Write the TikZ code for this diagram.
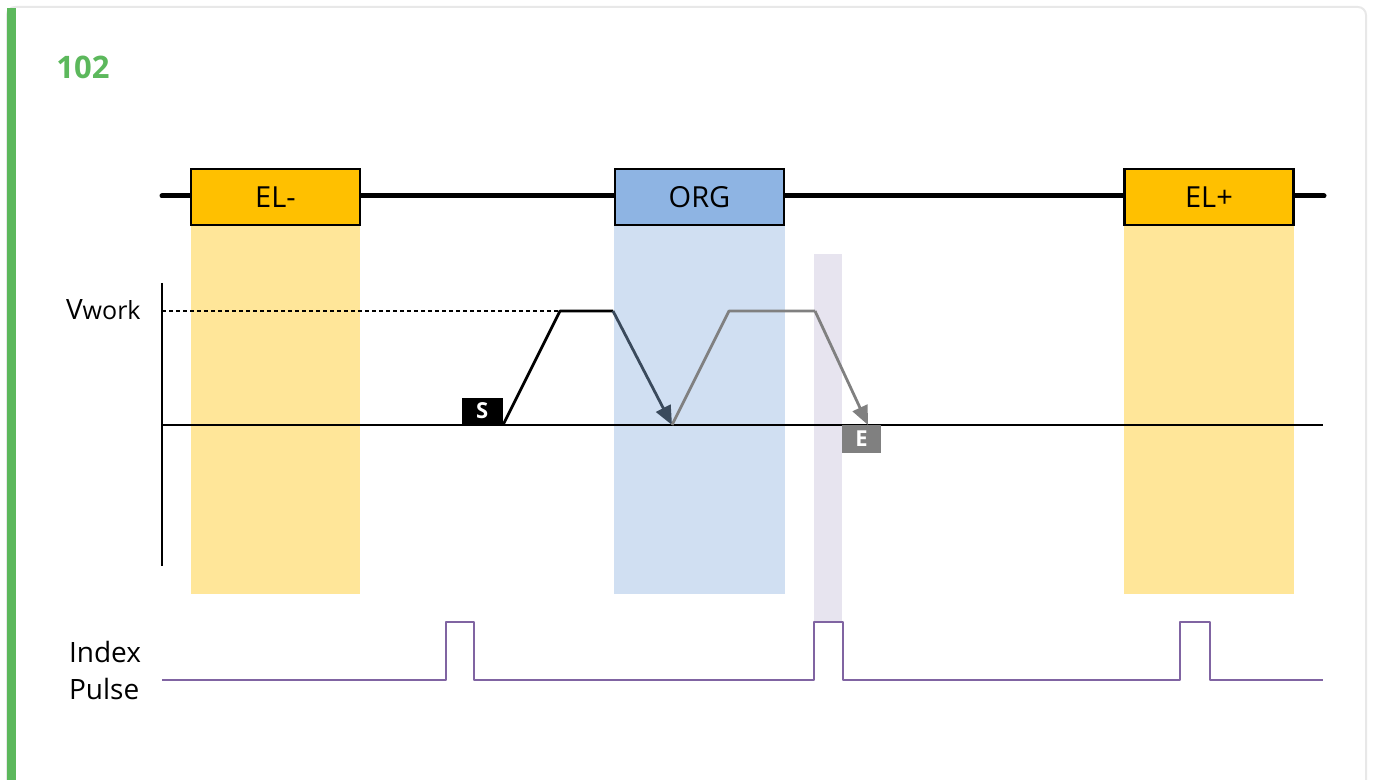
\documentclass[tikz,border=0pt]{standalone}
\usepackage{fontspec}
\setmainfont{Open Sans}
\usetikzlibrary{arrows.meta}

\definecolor{cardgreen}{HTML}{5CB85C}
\definecolor{cardline}{HTML}{E8E8E8}
\definecolor{limitorange}{HTML}{FFC000}
\definecolor{limitband}{HTML}{FFE699}
\definecolor{orgblue}{HTML}{8EB4E3}
\definecolor{orgband}{HTML}{D0DFF2}
\definecolor{indexband}{HTML}{E7E4EF}
\definecolor{pulseviolet}{HTML}{8064A2}
\definecolor{decelnavy}{HTML}{3A4A5C}
\definecolor{returngray}{HTML}{808080}

\tikzset{
  sensor/.style={draw=black, line width=1.1pt, minimum width=84.5pt, minimum height=28pt,
    inner sep=0pt, font=\fontsize{14.5}{17}\selectfont},
  tag/.style={inner sep=0pt, minimum width=20pt, minimum height=14pt,
    text=white, font=\bfseries\fontsize{11}{12}\selectfont},
  profile/.style={line width=1.4pt, line join=round},
  tip/.style={-{Triangle[length=9.5pt,width=8pt]}},
  label/.style={font=\fontsize{14}{18.5}\selectfont, inner sep=0pt}
}

\begin{document}
\begin{tikzpicture}[x=0.5pt,y=-0.5pt]
\useasboundingbox (0,0) rectangle (1373,780);

% card
\draw[cardline, line width=1pt, rounded corners=4pt] (7,7) rectangle (1366,810);
\fill[cardgreen] (7,8) rectangle (16,780);
\node[anchor=west, inner sep=0pt, text=cardgreen, font=\bfseries\fontsize{15.5}{18}\selectfont] (title) at (56,67) {102};

% shaded zones
\fill[limitband] (191,225) rectangle (360,594);
\fill[orgband] (614,225) rectangle (785,594);
\fill[limitband] (1124,225) rectangle (1294,594);
\fill[indexband] (814,254) rectangle (842,622);

% sensor rail
\coordinate (railL) at (162,196);
\coordinate (railR) at (1324,196);
\draw[line width=2.5pt, line cap=round] (railL) -- (railR);
\node[sensor, fill=limitorange] (elm) at (275.5,197) {EL-};
\node[sensor, fill=orgblue] (org) at (699.5,197) {ORG};
\node[sensor, fill=limitorange] (elp) at (1209,197) {EL+};

% velocity axes
\coordinate (axisT) at (162,283);
\coordinate (axisB) at (162,566);
\coordinate (zeroL) at (162,425);
\coordinate (zeroR) at (1323,425);
\coordinate (workL) at (162,311);
\draw[line width=1.1pt] (axisT) -- (axisB);
\draw[line width=1.1pt] (zeroL) -- (zeroR);
\node[label, anchor=east] (vwork) at (141,310) {V\fontsize{12.5}{15}\selectfont work};

% velocity profile
\coordinate (start) at (503,425);
\coordinate (acc) at (560,311);
\coordinate (dec) at (613,311);
\coordinate (stop) at (672,425);
\coordinate (back) at (729,311);
\coordinate (slow) at (815,311);
\coordinate (end) at (868,425);
\draw[line width=1.1pt, dash pattern=on 2pt off 1.5pt] (workL) -- (acc);
\draw[profile] (start) -- (acc) -- (dec);
\draw[profile, decelnavy, tip] (dec) -- (stop);
\draw[profile, returngray] (stop) -- (back) -- (slow);
\draw[profile, returngray, tip] (slow) -- (end);
\node[tag, fill=black, anchor=south east, minimum width=20.5pt, minimum height=13.5pt] (s) at (start) {S};
\node[tag, fill=returngray, minimum width=19.5pt] (e) at (861.5,439) {E};

% index pulse
\node[label, align=left] (index) at (105,671) {Index\\Pulse};
\draw[pulseviolet, line width=1.4pt, line join=round]
  (162,680) -- (446,680) -- (446,622) -- (474,622) -- (474,680)
  -- (814,680) -- (814,622) -- (843,622) -- (843,680)
  -- (1180,680) -- (1180,622) -- (1210,622) -- (1210,680) -- (1323,680);
\end{tikzpicture}
\end{document}
